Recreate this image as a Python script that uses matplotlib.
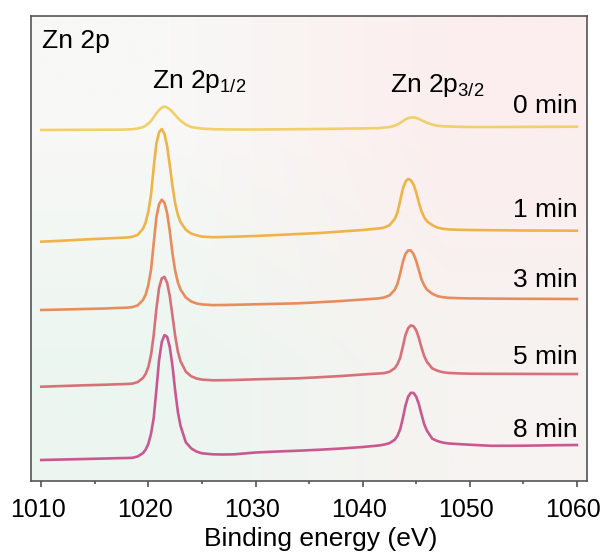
import numpy as np
import matplotlib
matplotlib.use("Agg")
import matplotlib.pyplot as plt
from matplotlib.transforms import ScaledTranslation

plt.rcParams["font.family"] = ["Liberation Sans", "DejaVu Sans"]
plt.rcParams["mathtext.fontset"] = "custom"
plt.rcParams["mathtext.rm"] = "Liberation Sans"

# binding energy grid (eV), shared by all spectra
energy = [1010, 1012, 1014, 1016, 1017, 1018, 1018.5, 1019, 1019.5, 1019.75, 1020, 1020.25,
          1020.5, 1020.75, 1021, 1021.25, 1021.5, 1021.75, 1022, 1022.25, 1022.5, 1022.75, 1023,
          1023.5, 1024, 1024.5, 1025, 1026, 1027, 1028, 1030, 1032, 1034, 1036, 1038, 1040,
          1041, 1041.5, 1042, 1042.5, 1043, 1043.25, 1043.5, 1043.75, 1044, 1044.25, 1044.5,
          1044.75, 1045, 1045.25, 1045.5, 1045.75, 1046, 1046.5, 1047, 1047.5, 1048, 1049, 1050,
          1052, 1055, 1058, 1060]

# stacked intensities (a.u., offsets included)
int_0min = [350.0, 350.1, 350.2, 350.3, 350.3, 350.5, 350.8, 351.5, 352.9, 354.4, 356.5, 359.1,
            362.9, 366.7, 370.0, 372.3, 373.4, 372.5, 370.6, 368.1, 365.1, 362.0, 359.4,
            355.3, 353.0, 352.1, 351.4, 350.8, 350.6, 350.5, 350.5, 350.6, 350.8, 351.0, 351.3, 351.6,
            351.8, 351.9, 352.4, 352.9, 354.3, 355.5, 357.1, 358.8, 360.6, 361.9, 362.5,
            362.6, 362.0, 361.0, 359.8, 358.5, 357.2, 355.4, 354.2, 353.7, 353.5, 353.2, 353.0,
            353.0, 353.1, 353.2, 353.3]
int_1min = [238.3, 239.3, 240.5, 241.5, 242.0, 242.5, 243.2, 245.1, 251.3, 257.7, 268.7, 285.6,
            313.1, 336.7, 348.0, 350.9, 346.2, 333.7, 314.3, 293.8, 276.4, 265.2, 257.9,
            250.2, 246.4, 244.7, 243.4, 242.8, 243.0, 243.3, 244.0, 245.0, 246.0, 247.0, 248.5, 250.0,
            251.0, 251.5, 252.4, 254.7, 261.1, 267.6, 279.0, 291.1, 298.3, 301.1, 299.8,
            295.5, 287.6, 277.4, 268.6, 262.7, 258.7, 254.9, 252.3, 251.2, 250.6, 250.2, 250.0,
            249.8, 249.5, 249.4, 249.3]
int_3min = [170.0, 170.5, 171.0, 171.5, 172.0, 172.3, 172.9, 174.6, 180.1, 185.5, 195.3, 210.4,
            237.2, 263.0, 275.9, 280.3, 277.3, 266.7, 248.7, 226.4, 209.4, 197.7, 190.4,
            182.4, 178.5, 176.5, 175.6, 174.9, 175.0, 175.2, 175.7, 176.2, 176.7, 177.8, 179.0, 180.5,
            181.2, 181.6, 182.5, 184.5, 190.2, 196.0, 206.1, 217.9, 226.1, 229.6, 229.5,
            226.0, 219.1, 209.7, 200.5, 194.6, 190.4, 186.3, 183.8, 182.8, 182.2, 181.8, 181.6,
            181.4, 181.2, 181.1, 181.0]
int_5min = [93.3, 94.0, 94.7, 95.3, 95.7, 96.0, 96.4, 97.9, 102.1, 106.2, 113.2, 125.4,
            145.2, 171.6, 192.2, 201.7, 203.2, 197.2, 183.7, 164.0, 144.3, 128.5, 118.8,
            108.3, 103.7, 101.5, 100.4, 99.7, 99.8, 100.0, 100.7, 101.2, 101.7, 102.8, 104.0, 105.5,
            106.2, 106.5, 106.9, 108.2, 111.8, 115.8, 122.1, 133.2, 144.9, 151.9, 154.6,
            153.8, 149.7, 142.1, 132.3, 123.9, 118.2, 111.6, 109.2, 107.8, 107.1, 106.6, 106.3,
            106.2, 106.1, 106.0, 106.0]
int_8min = [20.0, 20.5, 21.0, 21.5, 21.8, 22.0, 22.2, 23.5, 27.0, 30.5, 36.3, 46.4,
            62.4, 90.5, 120.2, 138.0, 144.9, 143.2, 132.8, 113.9, 89.4, 68.3, 54.1,
            37.6, 31.6, 28.4, 26.7, 25.7, 25.5, 25.7, 27.5, 28.5, 29.3, 30.3, 31.5, 33.0,
            34.0, 34.5, 35.4, 36.8, 40.3, 44.2, 50.6, 61.5, 74.4, 83.3, 87.2,
            87.1, 83.4, 75.9, 65.6, 55.8, 49.4, 41.3, 38.9, 37.4, 36.6, 35.9, 35.3,
            34.2, 34.3, 34.8, 35.0]

labels = ["0 min", "1 min", "3 min", "5 min", "8 min"]
label_y = [366.7, 263.0, 192.7, 116.0, 43.3]
colors = ["#f1d06a", "#f0b347", "#e88c5c", "#d87079", "#c9588e"]

fig = plt.figure(figsize=(6.04, 5.56), dpi=100)
ax = fig.add_axes([0.0513, 0.1354, 0.9206, 0.8364])

# soft gradient background
bg = np.array([[[236, 246, 240], [246, 243, 241]],
               [[248, 248, 246], [252, 238, 238]]]) / 255.0
ax.imshow(bg, extent=[0, 1, 0, 1], transform=ax.transAxes, aspect="auto",
          interpolation="bilinear", origin="lower", zorder=0)

for ys, c in zip([int_0min, int_1min, int_3min, int_5min, int_8min], colors):
    ax.plot(energy, ys, color=c, lw=1.9, zorder=2, solid_joinstyle="round")
for lab, y in zip(labels, label_y):
    ax.text(1060.1, y, lab, ha="right", va="baseline", fontsize=19, zorder=3)

ax.text(0.019, 0.931, "Zn 2p", transform=ax.transAxes, ha="left", va="baseline", fontsize=19)
ax.text(1020.3, 391.7, r"Zn 2p$_\mathregular{1/2}$", ha="left", va="baseline", fontsize=19)
ax.text(1042.6, 388.3, r"Zn 2p$_\mathregular{3/2}$", ha="left", va="baseline", fontsize=19)

ax.set_xlim(1009.04, 1060.95)
ax.set_ylim(-0.7, 464.3)
ax.set_xticks([1010, 1020, 1030, 1040, 1050, 1060])
ax.set_xticks(np.arange(1015, 1060, 10), minor=True)
ax.set_yticks([])
ax.tick_params(axis="x", which="major", direction="out", length=4.3, width=1.1,
               labelsize=18, pad=8, color="#444444")
ax.tick_params(axis="x", which="minor", direction="out", length=2.5, width=1.1, color="#444444")
shift = ScaledTranslation(-0.035, 0, fig.dpi_scale_trans)
for lbl in ax.get_xticklabels():
    lbl.set_transform(lbl.get_transform() + shift)
for s in ax.spines.values():
    s.set_color("#555555")
    s.set_linewidth(1.2)
ax.set_xlabel("Binding energy (eV)", fontsize=19)
ax.xaxis.set_label_coords(0.5207, -0.099)

fig.savefig("out.png", dpi=100)
